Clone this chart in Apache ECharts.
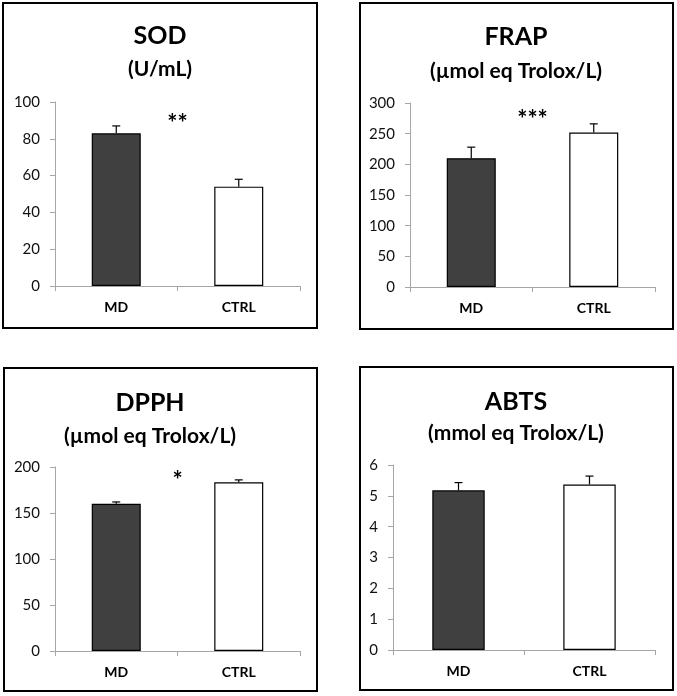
<!DOCTYPE html>
<html>
<head>
<meta charset="utf-8">
<script src="https://cdn.jsdelivr.net/npm/echarts@6/dist/echarts.min.js"></script>
<style>html,body{margin:0;padding:0;background:#fff;}#c{width:677px;height:696px;}</style>
</head>
<body>
<div id="c"></div>
<script>
var categories = ['MD', 'CTRL'];
var titles = ['SOD', 'FRAP', 'DPPH', 'ABTS'];
var subtitles = ['(U/mL)', '(\u00b5mol eq Trolox/L)', '(\u00b5mol eq Trolox/L)', '(mmol eq Trolox/L)'];
var sodValues = [83, 54];
var sodErrors = [4, 4];
var frapValues = [210, 252];
var frapErrors = [18, 14];
var dpphValues = [160, 183.5];
var dpphErrors = [2, 2.5];
var abtsValues = [5.18, 5.37];
var abtsErrors = [0.25, 0.27];
var yMax = [100, 300, 200, 6];
var yInterval = [20, 50, 50, 1];
var starLabels = ['**', '***', '*', ''];
var starHeights = [88, 272, 184, 0];

var allValues = [sodValues, frapValues, dpphValues, abtsValues];
var allErrors = [sodErrors, frapErrors, dpphErrors, abtsErrors];

var FONT = 'Lato, "Open Sans", sans-serif';
var panels = [
  {x: 3, y: 3, w: 314, h: 325, gl: 55, gt: 102, gw: 245, gh: 184, tx: 160, ty: 36, sy: 69},
  {x: 360, y: 3, w: 313, h: 326, gl: 410, gt: 103, gw: 245, gh: 184, tx: 516, ty: 37, sy: 71},
  {x: 4, y: 368, w: 313, h: 323, gl: 55, gt: 467, gw: 245, gh: 184, tx: 150, ty: 403, sy: 436},
  {x: 360, y: 367, w: 313, h: 323, gl: 393, gt: 465, gw: 262, gh: 185, tx: 516, ty: 402, sy: 433}
];

var grids = [], xAxes = [], yAxes = [], series = [], graphics = [];
panels.forEach(function (p, i) {
  graphics.push({type: 'rect', shape: {x: p.x, y: p.y, width: p.w, height: p.h},
    style: {fill: null, stroke: '#000', lineWidth: 2}, silent: true});
  graphics.push({type: 'text', x: p.tx, y: p.ty, silent: true,
    style: {text: titles[i], textAlign: 'center', textVerticalAlign: 'middle',
      fontFamily: FONT, fontWeight: 'bold', fontSize: 25, fill: '#000'}});
  graphics.push({type: 'text', x: p.tx, y: p.sy, silent: true,
    style: {text: subtitles[i], textAlign: 'center', textVerticalAlign: 'middle',
      fontFamily: FONT, fontWeight: 'bold', fontSize: 21, fill: '#000'}});
  grids.push({left: p.gl, top: p.gt, width: p.gw, height: p.gh, containLabel: false});
  xAxes.push({type: 'category', gridIndex: i, data: categories,
    axisLine: {lineStyle: {color: '#a6a6a6', width: 1}},
    axisTick: {show: true, length: 5, lineStyle: {color: '#a6a6a6'}},
    axisLabel: {fontFamily: FONT, fontWeight: 'bold', fontSize: 14, color: '#000', margin: 14}});
  yAxes.push({type: 'value', gridIndex: i, min: 0, max: yMax[i], interval: yInterval[i],
    axisLine: {show: true, lineStyle: {color: '#a6a6a6', width: 1}},
    axisTick: {show: true, length: 5, lineStyle: {color: '#a6a6a6'}},
    splitLine: {show: false},
    axisLabel: {fontFamily: FONT, fontSize: 15, color: '#111', margin: 15}});
  series.push({type: 'bar', xAxisIndex: i, yAxisIndex: i, barWidth: '40%',
    data: allValues[i].map(function (v, k) {
      return {value: v, itemStyle: {color: k === 0 ? '#404040' : '#ffffff', borderColor: '#000', borderWidth: 1.2}};
    }), silent: true, animation: false});
  series.push({type: 'custom', xAxisIndex: i, yAxisIndex: i, silent: true, animation: false,
    data: allValues[i].map(function (v, k) { return [k, v, v + allErrors[i][k]]; }),
    renderItem: function (params, api) {
      var b = api.coord([api.value(0), api.value(1)]);
      var t = api.coord([api.value(0), api.value(2)]);
      return {type: 'group', children: [
        {type: 'line', shape: {x1: b[0], y1: b[1], x2: t[0], y2: t[1]}, style: {stroke: '#000', lineWidth: 1.2}},
        {type: 'line', shape: {x1: t[0] - 4, y1: t[1], x2: t[0] + 4, y2: t[1]}, style: {stroke: '#000', lineWidth: 1.2}}
      ]};
    }, z: 3});
  if (starLabels[i]) {
    series.push({type: 'custom', xAxisIndex: i, yAxisIndex: i, silent: true, animation: false,
      data: [[0, starHeights[i], starLabels[i]]],
      renderItem: function (params, api) {
        var a = api.coord([0, api.value(1)]);
        var b = api.coord([1, api.value(1)]);
        return {type: 'text', style: {x: (a[0] + b[0]) / 2, y: a[1], text: starLabels[i],
          textAlign: 'center', textVerticalAlign: 'middle', fontFamily: FONT, fontSize: 24, fontWeight: 'bold', fill: '#000'}};
      }});
  }
});

var chart = echarts.init(document.getElementById('c'), null, {renderer: 'canvas'});
chart.setOption({
  backgroundColor: '#fff',
  animation: false,
  grid: grids,
  xAxis: xAxes,
  yAxis: yAxes,
  series: series,
  graphic: graphics
});
</script>
</body>
</html>
